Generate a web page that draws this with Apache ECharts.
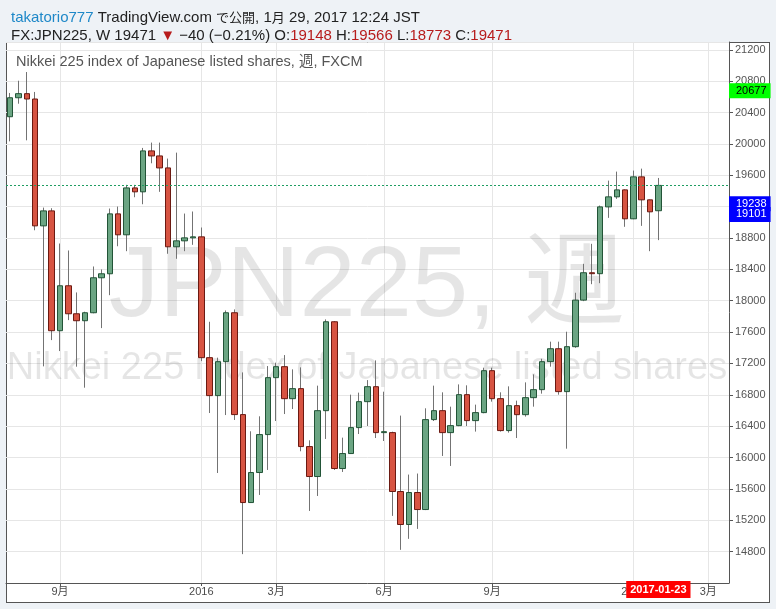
<!DOCTYPE html>
<html><head><meta charset="utf-8">
<script src="https://cdn.jsdelivr.net/npm/echarts@6/dist/echarts.min.js"></script>
<style>
html,body{margin:0;padding:0;background:#eef2f6;}
#frame{position:absolute;left:6px;top:42px;width:762px;height:559px;border:1px solid #555;background:#fff;}
#c{position:absolute;left:0;top:0;width:776px;height:609px;}
</style></head><body>
<div id="frame"></div><div id="c"></div>
<script>
const dates = [
 '2015-07-27','2015-08-03','2015-08-10','2015-08-17','2015-08-24','2015-08-31','2015-09-07','2015-09-14','2015-09-21','2015-09-28',
 '2015-10-05','2015-10-12','2015-10-19','2015-10-26','2015-11-02','2015-11-09','2015-11-16','2015-11-23','2015-11-30','2015-12-07',
 '2015-12-14','2015-12-21','2015-12-28',
 '2016-01-04','2016-01-11','2016-01-18','2016-01-25','2016-02-01','2016-02-08','2016-02-15','2016-02-22','2016-02-29','2016-03-07',
 '2016-03-14','2016-03-21','2016-03-28','2016-04-04','2016-04-11','2016-04-18','2016-04-25','2016-05-02','2016-05-09','2016-05-16',
 '2016-05-23','2016-05-30','2016-06-06','2016-06-13','2016-06-20','2016-06-27','2016-07-04','2016-07-11','2016-07-18','2016-07-25',
 '2016-08-01','2016-08-08','2016-08-15','2016-08-22','2016-08-29','2016-09-05','2016-09-12','2016-09-19','2016-09-26','2016-10-03',
 '2016-10-10','2016-10-17','2016-10-24','2016-10-31','2016-11-07','2016-11-14','2016-11-21','2016-11-28','2016-12-05','2016-12-12',
 '2016-12-19','2016-12-26',
 '2017-01-02','2017-01-09','2017-01-16','2017-01-23'
];
const futureDates = ['2017-01-30','2017-02-06','2017-02-13','2017-02-20','2017-02-27','2017-03-06','2017-03-13','2017-03-20'];

const opens = [20347,20589,20641,20573,18955,19146,17618,18191,17834,17745,
 17847,18293,18344,19108,18841,19439,19389,19911,19847,19694,
 18688,18764,18802,
 18815,17274,16790,17223,17847,16548,15426,15809,16293,17019,
 17159,16751,16879,16140,15758,16598,17732,15860,16051,16382,
 16713,16904,16318,16318,15567,15146,15554,15337,16484,16598,
 16318,16407,16802,16471,16573,17108,16751,16344,16662,16547,
 16764,16866,17223,17388,16841,17414,18008,18357,18345,19197,
 19325,19414,
 19045,19580,19287,19148];
const closes = [20589,20641,20573,18955,19146,17618,18191,17834,17745,17847,
 18293,18344,19108,18841,19439,19389,19911,19847,19694,18688,
 18764,18802,18815,
 17274,16790,17223,17847,16548,15426,15809,16293,17019,17159,
 16751,16879,16140,15758,16598,17732,15860,16051,16382,16713,
 16904,16318,16330,15567,15146,15554,15337,16484,16598,16318,
 16407,16802,16471,16573,17108,16751,16344,16662,16547,16764,
 16866,17223,17388,16841,17414,18008,18357,18345,19197,19325,
 19414,19045,
 19580,19287,19134,19471];
const lows = [20033,20513,20046,18899,17163,17498,17358,17753,17159,16891,
 17840,17651,18071,18695,18632,19320,19231,19753,19389,18599,
 18535,18632,18713,
 17230,16568,15803,16542,16479,14768,15420,15523,15842,16466,
 16555,16619,16080,15319,15510,16237,15842,15816,16045,16300,
 16402,16249,16211,15256,14823,14963,15090,15330,16466,16020,
 15893,16400,16402,16331,16565,16713,16331,16318,16249,16522,
 16649,16815,17159,16802,16113,17400,17995,18211,18224,19057,
 19299,18943,
 19040,18955,18632,18773];
const highs = [20650,20806,20917,20663,19188,19180,18730,18641,18106,17860,
 18437,18399,19176,19201,19478,19478,19949,20017,20017,19813,
 19889,19112,19138,
 18934,17732,17274,17876,17889,17086,16335,16526,17167,17210,
 17307,17125,17150,16220,16917,17762,17740,16254,16802,16828,
 16988,17239,16840,16330,16535,15783,15796,16628,16917,16832,
 16649,16933,16921,16675,17146,17146,16832,16908,16726,16959,
 17061,17260,17478,17478,17605,18102,18471,18726,19214,19532,
 19647,19420,
 19660,19685,19290,19566];

const xTickLabels = {
 '2015-09-07':'9月','2016-01-04':'2016','2016-03-07':'3月','2016-06-06':'6月',
 '2016-09-05':'9月','2017-01-02':'2017','2017-03-06':'3月'
};
const currentDate = '2017-01-23';
const lastPrice = 19471;
const priceTags = [
 {value:20677, bg:'#00ff00', fg:'#000000'},
 {value:19238, bg:'#0000ff', fg:'#ffffff'},
 {value:19101, bg:'#0000ff', fg:'#ffffff'}
];

const allDates = dates.concat(futureDates);
const ohlc = dates.map((d,i)=>[opens[i],closes[i],lows[i],highs[i]]);
const bodies = dates.map((d,i)=>[opens[i],closes[i],Math.min(opens[i],closes[i]),Math.max(opens[i],closes[i])]);

const FONT = '"Liberation Sans", Arial, "Noto Sans CJK JP", sans-serif';
const chart = echarts.init(document.getElementById('c'), null, {renderer:'canvas'});

const tagData = priceTags.map(t=>({
 yAxis:t.value,
 label:{show:true, position:'end', distance:0, formatter:String(t.value),
   backgroundColor:t.bg, color:t.fg, fontSize:11, fontFamily:FONT, padding:[1,4,1,7], lineHeight:13}
}));

chart.setOption({
 animation:false,
 backgroundColor:'transparent',
 textStyle:{fontFamily:FONT},
 title:{
   left:6, top:4,
   text:'{u|takatorio777}{k| TradingView.com }{j|で公開}{k|, 1}{j|月}{k| 29, 2017 12:24 JST}\n'+
        '{k|FX:JPN225, W 19471 }{r|▼}{k| −40 (−0.21%) O:}{r|19148}{k| H:}{r|19566}{k| L:}{r|18773}{k| C:}{r|19471}',
   textStyle:{fontSize:15, fontWeight:'normal', color:'#222', lineHeight:18, fontFamily:FONT,
     rich:{
       u:{color:'#1e88c8', fontSize:15, lineHeight:18, fontFamily:FONT},
       k:{color:'#222', fontSize:15, lineHeight:18, fontFamily:FONT},
       j:{color:'#222', fontSize:13, lineHeight:18, fontFamily:FONT},
       r:{color:'#b71c1c', fontSize:15, lineHeight:18, fontFamily:FONT}
     }}
 },
 graphic:[
   {type:'text', z:1, x:367, y:288, silent:true,
    style:{text:'JPN225, 週', fontSize:101, fontFamily:FONT, fill:'rgba(0,0,0,0.1)', textAlign:'center', textVerticalAlign:'middle'}},
   {type:'text', z:1, x:367, y:369, silent:true,
    style:{text:'Nikkei 225 index of Japanese listed shares', fontSize:38, fontFamily:FONT, fill:'rgba(0,0,0,0.1)', textAlign:'center', textVerticalAlign:'middle'}},
   {type:'text', z:5, x:16, y:62, silent:true,
    style:{text:'Nikkei 225 index of Japanese listed shares, 週, FXCM', fontSize:14.5, fontFamily:FONT, fill:'#555', textAlign:'left', textVerticalAlign:'middle'}}
 ],
 grid:{left:6, right:47, top:42, bottom:26, containLabel:false},
 xAxis:{
   type:'category', data:allDates, boundaryGap:true,
   axisLine:{show:true, lineStyle:{color:'#555', width:1}},
   axisTick:{show:true, alignWithLabel:true, length:3, lineStyle:{color:'#555'},
     interval:(i,v)=>xTickLabels[v]!==undefined},
   axisLabel:{
     margin:0, fontSize:11, color:'#555',
     interval:(i,v)=>xTickLabels[v]!==undefined || v===currentDate,
     formatter:v=> v===currentDate ? '{r|'+v+'}' : '{n|'+xTickLabels[v]+'}',
     rich:{
       n:{fontSize:11, color:'#4a4a4a', fontFamily:FONT, padding:[4,0,0,0], lineHeight:13},
       r:{fontSize:11, color:'#fff', fontWeight:'bold', fontFamily:FONT, backgroundColor:'#ff0000', padding:[3,4,3,4], lineHeight:13}
     }
   },
   splitLine:{show:true, alignWithLabel:true, interval:(i,v)=>xTickLabels[v]!==undefined, lineStyle:{color:'#e6e6e6', width:1}}
 },
 yAxis:{
   type:'value', position:'right', scale:true,
   min:14400, max:21300, interval:400,
   axisLine:{show:true, lineStyle:{color:'#555', width:1}},
   axisTick:{show:true, length:4, lineStyle:{color:'#555'}},
   axisLabel:{fontSize:11, color:'#555', margin:6, showMinLabel:false, showMaxLabel:false, formatter:v=>String(v)},
   splitLine:{show:true, lineStyle:{color:'#e6e6e6', width:1}}
 },
 series:[
   {
     name:'wick', type:'candlestick', data:ohlc, barWidth:1, z:3, clip:false,
     itemStyle:{color:'#737373', color0:'#737373', borderColor:'#737373', borderColor0:'#737373', borderWidth:1},
     markLine:{silent:true, symbol:['none','none'], animation:false, z:10,
       lineStyle:{color:'rgba(0,0,0,0)', width:0, type:'solid'},
       data:tagData}
   },
   {
     name:'body', type:'candlestick', data:bodies, barWidth:6, z:4,
     itemStyle:{color:'#6ba583', color0:'#d75442', borderColor:'#225437', borderColor0:'#6b1a12', borderWidth:1},
     markLine:{silent:true, symbol:['none','none'], animation:false,
       lineStyle:{color:'#1f9d62', width:1, type:[2,2], opacity:1},
       label:{show:false},
       data:[{yAxis:lastPrice}]}
   }
 ]
});
</script>
</body></html>
